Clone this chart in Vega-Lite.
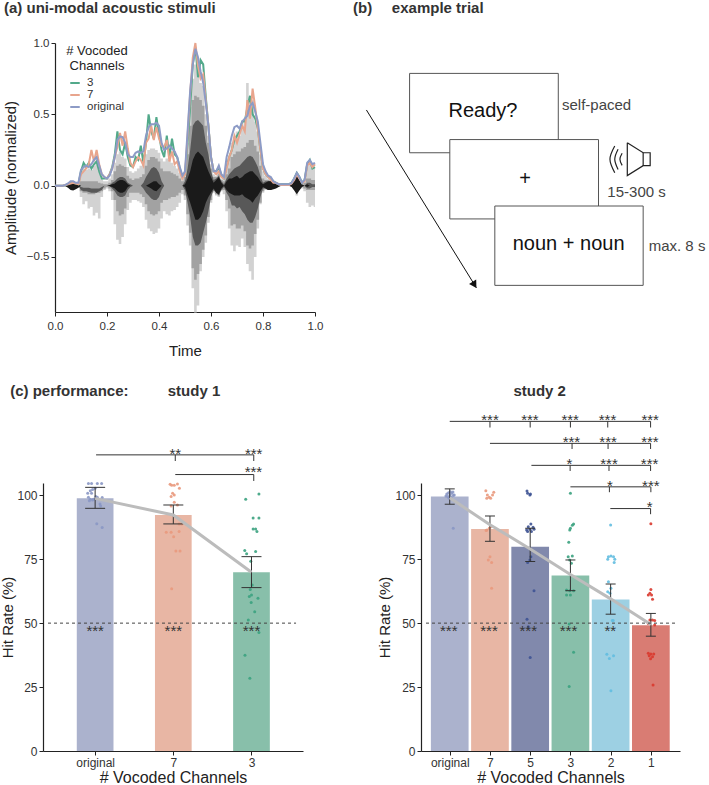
{"$schema":"https://vega.github.io/schema/vega-lite/v6.json","background":"white","padding":{"left":0,"top":1,"right":0,"bottom":3},"columns":2,"bounds":"flush","spacing":{"row":171,"column":23},"config":{"font":"Liberation Sans","view":{"stroke":null},"axis":{"grid":false,"domainColor":"#222","tickColor":"#222","labelColor":"#333","titleColor":"#222","titleFontWeight":"normal","labelFontSize":12,"titleFontSize":15,"domainWidth":1.2,"tickSize":4,"labelPadding":2,"labelFlush":false},"title":{"fontSize":15,"fontWeight":"bold","color":"#333"}},"datasets":{"wave":[
{"t":0,"3":0,"7":0,"original":0,"lu":0,"ll":0,"mu":0,"ml":0,"du":0,"dl":0,"ku":0,"kl":0},
{"t":0.03,"3":0,"7":0,"original":0,"lu":0,"ll":0,"mu":0,"ml":0,"du":0,"dl":0,"ku":0,"kl":0},
{"t":0.04,"3":0.002,"7":0.005,"original":0.005,"lu":0,"ll":0,"mu":0,"ml":0,"du":0,"dl":0,"ku":0.005,"kl":-0.005},
{"t":0.05,"3":0.01,"7":0.01,"original":0.015,"lu":0,"ll":0,"mu":0,"ml":0,"du":0,"dl":0,"ku":0.015,"kl":-0.015},
{"t":0.06,"3":0.02,"7":0.015,"original":0.03,"lu":0,"ll":0,"mu":0,"ml":0,"du":0,"dl":0,"ku":0.02,"kl":-0.03},
{"t":0.07,"3":0.02,"7":0.02,"original":0.03,"lu":0,"ll":0,"mu":0,"ml":0,"du":0,"dl":0,"ku":0.025,"kl":-0.035},
{"t":0.08,"3":0.015,"7":0.015,"original":0.02,"lu":0,"ll":0,"mu":0,"ml":0,"du":0,"dl":0,"ku":0.02,"kl":-0.025},
{"t":0.09,"3":0.01,"7":0.01,"original":0.02,"lu":0,"ll":0,"mu":0,"ml":0,"du":0,"dl":0,"ku":0.01,"kl":-0.015},
{"t":0.1,"3":0.1,"7":0.08,"original":0.11,"lu":0.09,"ll":-0.08,"mu":0.03,"ml":-0.04,"du":-0.01,"dl":-0.03,"ku":0,"kl":0},
{"t":0.11,"3":0.16,"7":0.1,"original":0.13,"lu":0.12,"ll":-0.13,"mu":0.03,"ml":-0.05,"du":-0.015,"dl":-0.04,"ku":0,"kl":0},
{"t":0.12,"3":0.13,"7":0.12,"original":0.14,"lu":0.11,"ll":-0.11,"mu":0.03,"ml":-0.05,"du":-0.015,"dl":-0.04,"ku":0,"kl":0},
{"t":0.13,"3":0.16,"7":0.15,"original":0.13,"lu":0.12,"ll":-0.16,"mu":0.03,"ml":-0.06,"du":-0.015,"dl":-0.045,"ku":0,"kl":0},
{"t":0.14,"3":0.12,"7":0.25,"original":0.15,"lu":0.11,"ll":-0.15,"mu":0.03,"ml":-0.06,"du":-0.02,"dl":-0.05,"ku":0,"kl":0},
{"t":0.15,"3":0.15,"7":0.17,"original":0.18,"lu":0.14,"ll":-0.21,"mu":0.03,"ml":-0.06,"du":-0.02,"dl":-0.05,"ku":0,"kl":0},
{"t":0.16,"3":0.17,"7":0.25,"original":0.2,"lu":0.15,"ll":-0.19,"mu":0.03,"ml":-0.05,"du":-0.02,"dl":-0.05,"ku":0,"kl":0},
{"t":0.17,"3":0.1,"7":0.15,"original":0.14,"lu":0.1,"ll":-0.23,"mu":0.02,"ml":-0.05,"du":-0.02,"dl":-0.04,"ku":0,"kl":0},
{"t":0.18,"3":0.05,"7":0.08,"original":0.08,"lu":0.05,"ll":-0.08,"mu":0.015,"ml":-0.04,"du":-0.01,"dl":-0.03,"ku":0,"kl":0},
{"t":0.19,"3":0.05,"7":0.06,"original":0.06,"lu":0.03,"ll":-0.03,"mu":0.01,"ml":-0.02,"du":0,"dl":0,"ku":0,"kl":0},
{"t":0.2,"3":0.05,"7":0.05,"original":0.05,"lu":0.03,"ll":-0.02,"mu":0.01,"ml":-0.01,"du":0,"dl":0,"ku":0,"kl":0},
{"t":0.21,"3":0.08,"7":0.08,"original":0.07,"lu":0.05,"ll":-0.04,"mu":0.02,"ml":-0.02,"du":0,"dl":0,"ku":0.005,"kl":-0.005},
{"t":0.22,"3":0.13,"7":0.12,"original":0.12,"lu":0.08,"ll":-0.1,"mu":0.04,"ml":-0.04,"du":0.02,"dl":-0.02,"ku":0.01,"kl":-0.01},
{"t":0.23,"3":0.22,"7":0.2,"original":0.2,"lu":0.16,"ll":-0.27,"mu":0.1,"ml":-0.1,"du":0.03,"dl":-0.04,"ku":0.015,"kl":-0.02},
{"t":0.24,"3":0.38,"7":0.27,"original":0.32,"lu":0.22,"ll":-0.38,"mu":0.14,"ml":-0.18,"du":0.05,"dl":-0.07,"ku":0.03,"kl":-0.04},
{"t":0.25,"3":0.25,"7":0.37,"original":0.345,"lu":0.24,"ll":-0.41,"mu":0.15,"ml":-0.21,"du":0.06,"dl":-0.08,"ku":0.04,"kl":-0.05},
{"t":0.26,"3":0.22,"7":0.28,"original":0.34,"lu":0.2,"ll":-0.36,"mu":0.14,"ml":-0.2,"du":0.06,"dl":-0.08,"ku":0.04,"kl":-0.05},
{"t":0.27,"3":0.3,"7":0.38,"original":0.3,"lu":0.19,"ll":-0.27,"mu":0.13,"ml":-0.16,"du":0.05,"dl":-0.07,"ku":0.03,"kl":-0.04},
{"t":0.28,"3":0.2,"7":0.26,"original":0.22,"lu":0.13,"ll":-0.17,"mu":0.07,"ml":-0.08,"du":0.02,"dl":-0.03,"ku":0.01,"kl":-0.01},
{"t":0.29,"3":0.14,"7":0.16,"original":0.2,"lu":0.1,"ll":-0.12,"mu":0.05,"ml":-0.05,"du":0.01,"dl":-0.01,"ku":0,"kl":0},
{"t":0.3,"3":0.13,"7":0.13,"original":0.2,"lu":0.09,"ll":-0.1,"mu":0.04,"ml":-0.05,"du":0,"dl":0,"ku":0,"kl":0},
{"t":0.31,"3":0.2,"7":0.17,"original":0.23,"lu":0.1,"ll":-0.1,"mu":0.05,"ml":-0.05,"du":0,"dl":0,"ku":0,"kl":0},
{"t":0.32,"3":0.18,"7":0.2,"original":0.24,"lu":0.12,"ll":-0.11,"mu":0.05,"ml":-0.05,"du":0,"dl":0,"ku":0,"kl":0},
{"t":0.33,"3":0.28,"7":0.18,"original":0.23,"lu":0.14,"ll":-0.12,"mu":0.06,"ml":-0.06,"du":0,"dl":0,"ku":0,"kl":0},
{"t":0.34,"3":0.16,"7":0.14,"original":0.24,"lu":0.16,"ll":-0.15,"mu":0.08,"ml":-0.08,"du":0.02,"dl":-0.02,"ku":0,"kl":0},
{"t":0.35,"3":0.3,"7":0.3,"original":0.35,"lu":0.22,"ll":-0.24,"mu":0.14,"ml":-0.13,"du":0.06,"dl":-0.05,"ku":0,"kl":0},
{"t":0.36,"3":0.5,"7":0.33,"original":0.41,"lu":0.25,"ll":-0.3,"mu":0.18,"ml":-0.18,"du":0.09,"dl":-0.07,"ku":0.01,"kl":-0.01},
{"t":0.37,"3":0.38,"7":0.42,"original":0.43,"lu":0.26,"ll":-0.32,"mu":0.2,"ml":-0.2,"du":0.12,"dl":-0.09,"ku":0.02,"kl":-0.02},
{"t":0.38,"3":0.33,"7":0.32,"original":0.43,"lu":0.26,"ll":-0.34,"mu":0.2,"ml":-0.21,"du":0.13,"dl":-0.1,"ku":0.03,"kl":-0.035},
{"t":0.39,"3":0.48,"7":0.41,"original":0.44,"lu":0.25,"ll":-0.33,"mu":0.19,"ml":-0.2,"du":0.12,"dl":-0.1,"ku":0.03,"kl":-0.04},
{"t":0.4,"3":0.36,"7":0.33,"original":0.42,"lu":0.23,"ll":-0.3,"mu":0.17,"ml":-0.18,"du":0.09,"dl":-0.08,"ku":0.01,"kl":-0.02},
{"t":0.41,"3":0.25,"7":0.28,"original":0.3,"lu":0.19,"ll":-0.23,"mu":0.12,"ml":-0.12,"du":0.03,"dl":-0.03,"ku":0,"kl":0},
{"t":0.42,"3":0.2,"7":0.27,"original":0.25,"lu":0.17,"ll":-0.18,"mu":0.1,"ml":-0.1,"du":0,"dl":0,"ku":0,"kl":0},
{"t":0.43,"3":0.35,"7":0.32,"original":0.26,"lu":0.19,"ll":-0.2,"mu":0.1,"ml":-0.1,"du":0,"dl":0,"ku":0,"kl":0},
{"t":0.44,"3":0.2,"7":0.17,"original":0.28,"lu":0.18,"ll":-0.21,"mu":0.1,"ml":-0.09,"du":0,"dl":0,"ku":0,"kl":0},
{"t":0.45,"3":0.33,"7":0.24,"original":0.26,"lu":0.16,"ll":-0.18,"mu":0.09,"ml":-0.08,"du":0,"dl":0,"ku":0,"kl":0},
{"t":0.46,"3":0.22,"7":0.15,"original":0.24,"lu":0.14,"ll":-0.17,"mu":0.08,"ml":-0.08,"du":0,"dl":0,"ku":0,"kl":0},
{"t":0.47,"3":0.2,"7":0.17,"original":0.2,"lu":0.12,"ll":-0.15,"mu":0.07,"ml":-0.07,"du":0,"dl":0,"ku":0,"kl":0},
{"t":0.48,"3":0.12,"7":0.1,"original":0.13,"lu":0.09,"ll":-0.12,"mu":0.05,"ml":-0.05,"du":0,"dl":0,"ku":0,"kl":0},
{"t":0.49,"3":0.06,"7":0.05,"original":0.07,"lu":0.05,"ll":-0.06,"mu":0.03,"ml":-0.03,"du":0,"dl":0,"ku":0,"kl":0},
{"t":0.5,"3":0.08,"7":0.08,"original":0.1,"lu":0.08,"ll":-0.1,"mu":0.06,"ml":-0.07,"du":0.03,"dl":-0.03,"ku":0.01,"kl":-0.01},
{"t":0.51,"3":0.3,"7":0.35,"original":0.38,"lu":0.3,"ll":-0.28,"mu":0.22,"ml":-0.2,"du":0.12,"dl":-0.12,"ku":0.05,"kl":-0.07},
{"t":0.52,"3":0.55,"7":0.65,"original":0.67,"lu":0.55,"ll":-0.42,"mu":0.42,"ml":-0.33,"du":0.25,"dl":-0.22,"ku":0.1,"kl":-0.12},
{"t":0.53,"3":0.85,"7":0.9,"original":0.85,"lu":0.75,"ll":-0.72,"mu":0.6,"ml":-0.58,"du":0.42,"dl":-0.36,"ku":0.18,"kl":-0.18},
{"t":0.54,"3":0.97,"7":1,"original":0.96,"lu":0.85,"ll":-0.89,"mu":0.63,"ml":-0.66,"du":0.45,"dl":-0.42,"ku":0.22,"kl":-0.24},
{"t":0.55,"3":0.76,"7":0.84,"original":0.9,"lu":0.8,"ll":-0.84,"mu":0.62,"ml":-0.62,"du":0.46,"dl":-0.42,"ku":0.24,"kl":-0.24},
{"t":0.56,"3":0.88,"7":0.75,"original":0.8,"lu":0.72,"ll":-0.6,"mu":0.6,"ml":-0.55,"du":0.44,"dl":-0.4,"ku":0.22,"kl":-0.22},
{"t":0.57,"3":0.85,"7":0.78,"original":0.72,"lu":0.7,"ll":-0.5,"mu":0.56,"ml":-0.45,"du":0.42,"dl":-0.33,"ku":0.2,"kl":-0.18},
{"t":0.58,"3":0.62,"7":0.6,"original":0.58,"lu":0.5,"ll":-0.4,"mu":0.42,"ml":-0.35,"du":0.3,"dl":-0.26,"ku":0.15,"kl":-0.12},
{"t":0.59,"3":0.42,"7":0.42,"original":0.42,"lu":0.35,"ll":-0.26,"mu":0.3,"ml":-0.22,"du":0.22,"dl":-0.18,"ku":0.1,"kl":-0.08},
{"t":0.6,"3":0.2,"7":0.2,"original":0.2,"lu":0.15,"ll":-0.12,"mu":0.12,"ml":-0.1,"du":0.1,"dl":-0.08,"ku":0.06,"kl":-0.05},
{"t":0.61,"3":0.1,"7":0.1,"original":0.1,"lu":0.08,"ll":-0.05,"mu":0.06,"ml":-0.04,"du":0.04,"dl":-0.03,"ku":0.02,"kl":-0.02},
{"t":0.62,"3":0.1,"7":0.08,"original":0.1,"lu":0.07,"ll":-0.07,"mu":0.06,"ml":-0.06,"du":0.05,"dl":-0.05,"ku":0.04,"kl":-0.05},
{"t":0.63,"3":0.13,"7":0.1,"original":0.14,"lu":0.1,"ll":-0.08,"mu":0.08,"ml":-0.07,"du":0.07,"dl":-0.07,"ku":0.06,"kl":-0.06},
{"t":0.64,"3":0.07,"7":0.06,"original":0.08,"lu":0.05,"ll":-0.04,"mu":0.04,"ml":-0.03,"du":0.03,"dl":-0.03,"ku":0.02,"kl":-0.02},
{"t":0.65,"3":0.05,"7":0.05,"original":0.06,"lu":0.05,"ll":-0.06,"mu":0.03,"ml":-0.03,"du":0.01,"dl":-0.01,"ku":0,"kl":0},
{"t":0.66,"3":0.13,"7":0.12,"original":0.2,"lu":0.12,"ll":-0.18,"mu":0.08,"ml":-0.1,"du":0.05,"dl":-0.05,"ku":0.03,"kl":-0.03},
{"t":0.67,"3":0.2,"7":0.2,"original":0.27,"lu":0.2,"ll":-0.3,"mu":0.12,"ml":-0.16,"du":0.08,"dl":-0.08,"ku":0.05,"kl":-0.05},
{"t":0.68,"3":0.25,"7":0.25,"original":0.35,"lu":0.3,"ll":-0.42,"mu":0.2,"ml":-0.28,"du":0.1,"dl":-0.14,"ku":0.05,"kl":-0.06},
{"t":0.69,"3":0.32,"7":0.35,"original":0.41,"lu":0.33,"ll":-0.46,"mu":0.22,"ml":-0.27,"du":0.12,"dl":-0.14,"ku":0.06,"kl":-0.07},
{"t":0.7,"3":0.35,"7":0.3,"original":0.42,"lu":0.38,"ll":-0.42,"mu":0.24,"ml":-0.3,"du":0.13,"dl":-0.16,"ku":0.07,"kl":-0.07},
{"t":0.71,"3":0.38,"7":0.36,"original":0.4,"lu":0.35,"ll":-0.43,"mu":0.24,"ml":-0.3,"du":0.14,"dl":-0.15,"ku":0.05,"kl":-0.07},
{"t":0.72,"3":0.45,"7":0.42,"original":0.45,"lu":0.42,"ll":-0.37,"mu":0.26,"ml":-0.28,"du":0.16,"dl":-0.18,"ku":0.06,"kl":-0.06},
{"t":0.73,"3":0.45,"7":0.38,"original":0.47,"lu":0.46,"ll":-0.43,"mu":0.27,"ml":-0.32,"du":0.18,"dl":-0.2,"ku":0.08,"kl":-0.08},
{"t":0.74,"3":0.55,"7":0.6,"original":0.49,"lu":0.72,"ll":-0.55,"mu":0.3,"ml":-0.42,"du":0.2,"dl":-0.24,"ku":0.09,"kl":-0.09},
{"t":0.75,"3":0.63,"7":0.47,"original":0.56,"lu":0.62,"ll":-0.6,"mu":0.32,"ml":-0.44,"du":0.21,"dl":-0.26,"ku":0.1,"kl":-0.1},
{"t":0.76,"3":0.5,"7":0.68,"original":0.58,"lu":0.6,"ll":-0.66,"mu":0.32,"ml":-0.42,"du":0.2,"dl":-0.26,"ku":0.1,"kl":-0.12},
{"t":0.77,"3":0.47,"7":0.55,"original":0.52,"lu":0.45,"ll":-0.5,"mu":0.28,"ml":-0.34,"du":0.17,"dl":-0.22,"ku":0.08,"kl":-0.09},
{"t":0.78,"3":0.4,"7":0.4,"original":0.45,"lu":0.38,"ll":-0.3,"mu":0.24,"ml":-0.24,"du":0.13,"dl":-0.16,"ku":0.06,"kl":-0.07},
{"t":0.79,"3":0.25,"7":0.25,"original":0.3,"lu":0.22,"ll":-0.13,"mu":0.14,"ml":-0.12,"du":0.07,"dl":-0.08,"ku":0.03,"kl":-0.04},
{"t":0.8,"3":0.12,"7":0.12,"original":0.15,"lu":0.1,"ll":-0.05,"mu":0.05,"ml":-0.04,"du":0.02,"dl":-0.02,"ku":0.01,"kl":-0.01},
{"t":0.81,"3":0.08,"7":0.08,"original":0.1,"lu":0.07,"ll":-0.03,"mu":0.04,"ml":-0.02,"du":0.03,"dl":-0.02,"ku":0.02,"kl":-0.02},
{"t":0.82,"3":0.06,"7":0.06,"original":0.07,"lu":0.05,"ll":-0.03,"mu":0.04,"ml":-0.03,"du":0.03,"dl":-0.03,"ku":0.03,"kl":-0.03},
{"t":0.83,"3":0.05,"7":0.04,"original":0.06,"lu":0.04,"ll":-0.03,"mu":0.03,"ml":-0.03,"du":0.03,"dl":-0.03,"ku":0.03,"kl":-0.03},
{"t":0.84,"3":0.03,"7":0.02,"original":0.03,"lu":0.03,"ll":-0.025,"mu":0,"ml":0,"du":0,"dl":0,"ku":0.025,"kl":-0.025},
{"t":0.85,"3":0.02,"7":0.02,"original":0.02,"lu":0,"ll":0,"mu":0,"ml":0,"du":0,"dl":0,"ku":0.015,"kl":-0.02},
{"t":0.86,"3":0.01,"7":0.01,"original":0.01,"lu":0,"ll":0,"mu":0,"ml":0,"du":0,"dl":0,"ku":0.005,"kl":-0.01},
{"t":0.87,"3":0.01,"7":0.005,"original":0.01,"lu":0,"ll":0,"mu":0,"ml":0,"du":0,"dl":0,"ku":0,"kl":0},
{"t":0.9,"3":0.01,"7":0.005,"original":0.01,"lu":0,"ll":0,"mu":0,"ml":0,"du":0,"dl":0,"ku":0,"kl":0},
{"t":0.91,"3":0.02,"7":0.015,"original":0.02,"lu":0,"ll":0,"mu":0,"ml":0,"du":0,"dl":0,"ku":0.01,"kl":-0.01},
{"t":0.92,"3":0.05,"7":0.04,"original":0.05,"lu":0,"ll":0,"mu":0,"ml":0,"du":0,"dl":0,"ku":0.035,"kl":-0.035},
{"t":0.93,"3":0.09,"7":0.08,"original":0.09,"lu":0,"ll":-0.07,"mu":0,"ml":0,"du":0,"dl":0,"ku":0.07,"kl":-0.06},
{"t":0.94,"3":0.06,"7":0.05,"original":0.06,"lu":0,"ll":0,"mu":0,"ml":0,"du":0,"dl":0,"ku":0.04,"kl":-0.035},
{"t":0.95,"3":0.02,"7":0.02,"original":0.02,"lu":0.02,"ll":-0.02,"mu":0,"ml":0,"du":0,"dl":0,"ku":0.01,"kl":-0.01},
{"t":0.96,"3":0.04,"7":0.03,"original":0.04,"lu":0.03,"ll":-0.04,"mu":0.02,"ml":-0.02,"du":0,"dl":0,"ku":0,"kl":0},
{"t":0.97,"3":0.15,"7":0.14,"original":0.16,"lu":0.14,"ll":-0.12,"mu":0.05,"ml":-0.03,"du":0.02,"dl":-0.02,"ku":0.01,"kl":-0.01},
{"t":0.98,"3":0.18,"7":0.16,"original":0.18,"lu":0.15,"ll":-0.15,"mu":0.05,"ml":-0.03,"du":0.02,"dl":-0.02,"ku":0,"kl":0},
{"t":0.99,"3":0.12,"7":0.13,"original":0.15,"lu":0.13,"ll":-0.14,"mu":0.04,"ml":-0.03,"du":0.01,"dl":-0.01,"ku":0,"kl":0},
{"t":1,"3":0.13,"7":0.15,"original":0.16,"lu":0.13,"ll":-0.15,"mu":0.04,"ml":-0.03,"du":0.01,"dl":-0.01,"ku":0,"kl":0}
]},
"concat":[
{"width":272,"height":269,"data":{"name":"wave"},"title":{"text":"(a) uni-modal acoustic stimuli","anchor":"start","frame":"group","dx":-39,"offset":21},
"encoding":{"x":{"field":"t","type":"quantitative","title":"Time","scale":{"domain":[0,1],"range":[12,272]},"axis":{"values":[0,0.2,0.4,0.6,0.8,1],"format":".1f","labelFontSize":11.5,"labelPadding":4,"titlePadding":12}}},
"layer":[
{"mark":{"type":"area","interpolate":"step","color":"#d2d2d2"},"encoding":{"y":{"field":"ll","type":"quantitative","title":"Amplitude (normalized)","scale":{"domain":[-0.886,1]},"axis":{"values":[-0.5,0,0.5,1],"format":".1f","offset":-12,"labelFontSize":11.5,"titlePadding":8}},"y2":{"field":"lu"}}},
{"mark":{"type":"area","interpolate":"step","color":"#a2a2a2"},"encoding":{"y":{"field":"ml","type":"quantitative","title":"Amplitude (normalized)","scale":{"domain":[-0.886,1]}},"y2":{"field":"mu"}}},
{"mark":{"type":"area","interpolate":"linear","color":"#585858"},"encoding":{"y":{"field":"dl","type":"quantitative","title":"Amplitude (normalized)","scale":{"domain":[-0.886,1]}},"y2":{"field":"du"}}},
{"mark":{"type":"area","interpolate":"linear","color":"#1a1a1a"},"encoding":{"y":{"field":"kl","type":"quantitative","title":"Amplitude (normalized)","scale":{"domain":[-0.886,1]}},"y2":{"field":"ku"}}},
{"transform":[{"fold":["3","7","original"],"as":["series","amp"]}],"mark":{"type":"line","strokeWidth":2},"encoding":{"y":{"field":"amp","type":"quantitative","title":"Amplitude (normalized)","scale":{"domain":[-0.886,1]}},"color":{"field":"series","type":"nominal","sort":["3","7","original"],"scale":{"domain":["3","7","original"],"range":["#52a98a","#e8a58d","#8d9bc6"]},"legend":{"orient":"none","legendX":23,"legendY":2,"title":["# Vocoded","Channels"],"titleAlign":"center","titleAnchor":"middle","titleFontWeight":"normal","titleFontSize":13,"titleColor":"#222","labelFontSize":11.5,"labelColor":"#333","symbolType":"stroke","symbolSize":90,"symbolStrokeWidth":2,"rowPadding":-1,"titlePadding":4,"labelOffset":6}}}}
]},
{"width":369,"height":269,
"layer":[
{"data":{"values":[{"x":7.7,"x2":37.5,"y":24.9,"y2":91}]},"mark":{"type":"rule","color":"#111","strokeWidth":1},"encoding":{"x":{"field":"x","type":"quantitative","axis":null,"scale":{"domain":[0,100]}},"x2":{"field":"x2"},"y":{"field":"y","type":"quantitative","axis":null,"scale":{"domain":[100,0]}},"y2":{"field":"y2"}}},
{"data":{"values":[{"x":37,"y":89.9}]},"mark":{"type":"point","shape":"triangle-up","filled":true,"color":"#111","opacity":1,"size":70,"angle":148.4},"encoding":{"x":{"field":"x","type":"quantitative","axis":null,"scale":{"domain":[0,100]}},"y":{"field":"y","type":"quantitative","axis":null,"scale":{"domain":[100,0]}}}},
{"data":{"values":[{"x":19.4,"x2":59.7,"y":11.3,"y2":40.8},{"x":30.3,"x2":70.6,"y":35.9,"y2":65.4},{"x":42.5,"x2":82.7,"y":60.6,"y2":90.1}]},"mark":{"type":"rect","fill":"white","stroke":"#555","strokeWidth":1},"encoding":{"x":{"field":"x","type":"quantitative","axis":null,"scale":{"domain":[0,100]}},"x2":{"field":"x2"},"y":{"field":"y","type":"quantitative","axis":null,"scale":{"domain":[100,0]}},"y2":{"field":"y2"}}},
{"data":{"values":[{"s":"c","i":0,"x":78.4,"y":37.1},{"s":"c","i":1,"x":82.7,"y":40.8},{"s":"c","i":2,"x":84.6,"y":40.8},{"s":"c","i":3,"x":84.6,"y":45.6},{"s":"c","i":4,"x":82.7,"y":45.6},{"s":"c","i":5,"x":78.4,"y":49.3},{"s":"c","i":6,"x":78.4,"y":37.1},{"s":"d","i":0,"x":82.7,"y":40.8},{"s":"d","i":1,"x":82.7,"y":45.6}]},"mark":{"type":"line","color":"#222","strokeWidth":1.2},"encoding":{"x":{"field":"x","type":"quantitative","axis":null,"scale":{"domain":[0,100]}},"y":{"field":"y","type":"quantitative","axis":null,"scale":{"domain":[100,0]}},"detail":{"field":"s"},"order":{"field":"i"}}},
{"data":{"values":[{"s":"o","i":0,"x":75,"y":38.3},{"s":"o","i":1,"x":73.7,"y":43.2},{"s":"o","i":2,"x":75,"y":48.2},{"s":"m","i":0,"x":75.9,"y":39.5},{"s":"m","i":1,"x":75,"y":43.2},{"s":"m","i":2,"x":75.9,"y":47},{"s":"n","i":0,"x":77,"y":41},{"s":"n","i":1,"x":76.4,"y":43.2},{"s":"n","i":2,"x":77,"y":45.5}]},"mark":{"type":"line","color":"#222","strokeWidth":1.2,"interpolate":"cardinal"},"encoding":{"x":{"field":"x","type":"quantitative","axis":null,"scale":{"domain":[0,100]}},"y":{"field":"y","type":"quantitative","axis":null,"scale":{"domain":[100,0]}},"detail":{"field":"s"},"order":{"field":"i"}}},
{"data":{"values":[{"x":39.3,"y":25.3,"t":"Ready?"},{"x":50.7,"y":50.6,"t":"+"},{"x":62.5,"y":74.7,"t":"noun + noun"}]},"mark":{"type":"text","fontSize":20,"color":"#111","baseline":"middle"},"encoding":{"x":{"field":"x","type":"quantitative","axis":null,"scale":{"domain":[0,100]}},"y":{"field":"y","type":"quantitative","axis":null,"scale":{"domain":[100,0]}},"text":{"field":"t"}}},
{"data":{"values":[{"x":60.7,"y":23,"t":"self-paced"},{"x":73,"y":55.5,"t":"15-300 s"},{"x":84.2,"y":75.4,"t":"max. 8 s"}]},"mark":{"type":"text","fontSize":15,"color":"#444","baseline":"middle","align":"left"},"encoding":{"x":{"field":"x","type":"quantitative","axis":null,"scale":{"domain":[0,100]}},"y":{"field":"y","type":"quantitative","axis":null,"scale":{"domain":[100,0]}},"text":{"field":"t"}}},
{"data":{"values":[{"x":4.07,"y":-12.9,"t":"(b)"},{"x":14.6,"y":-12.9,"t":"example trial"}]},"mark":{"type":"text","fontSize":15,"fontWeight":"bold","color":"#333","baseline":"middle","align":"left"},"encoding":{"x":{"field":"x","type":"quantitative","axis":null,"scale":{"domain":[0,100]}},"y":{"field":"y","type":"quantitative","axis":null,"scale":{"domain":[100,0]}},"text":{"field":"t"}}}
]},
{"width":260,"height":268,
"encoding":{"x":{"field":"x","type":"quantitative","title":"# Vocoded Channels","scale":{"domain":[-0.603,2.595]},"axis":{"values":[0,1,2],"labelExpr":"['original','7','3'][datum.value]","titleFontSize":16,"titlePadding":1}},"y":{"field":"v","type":"quantitative","title":"Hit Rate (%)","scale":{"domain":[0,104.8]},"axis":{"values":[0,25,50,75,100],"titlePadding":1}}},
"resolve":{"scale":{"color":"independent"}},
"layer":[
{"data":{"values":[{"g":"original","x":0,"v":98.8},{"g":"7","x":1,"v":92.3},{"g":"3","x":2,"v":69.9}]},"mark":{"type":"bar","orient":"vertical","size":36.7},"encoding":{"color":{"field":"g","type":"nominal","legend":null,"scale":{"domain":["original","7","3"],"range":["#abb2cd","#e8b6a4","#88bfaa"]}}}},
{"data":{"values":[{"g":"original","x":-0.086,"v":104.6},{"g":"original","x":-0.046,"v":104.6},{"g":"original","x":0.028,"v":104.6},{"g":"original","x":0.083,"v":104.6},{"g":"original","x":-0.062,"v":101.8},{"g":"original","x":-0.033,"v":102.3},{"g":"original","x":0,"v":102.7},{"g":"original","x":-0.095,"v":100.8},{"g":"original","x":-0.046,"v":100.8},{"g":"original","x":0.009,"v":99.5},{"g":"original","x":-0.086,"v":99.2},{"g":"original","x":-0.062,"v":98.4},{"g":"original","x":-0.033,"v":98.2},{"g":"original","x":0.028,"v":99.2},{"g":"original","x":0.09,"v":99.1},{"g":"original","x":0.062,"v":96.6},{"g":"original","x":0.07,"v":95.8},{"g":"original","x":0.021,"v":88.9},{"g":"original","x":0.09,"v":87.4},{"g":"original","x":-0.021,"v":98.4},{"g":"original","x":-0.074,"v":97.9},
{"g":"7","x":0.959,"v":104.3},{"g":"7","x":0.979,"v":103.9},{"g":"7","x":1.012,"v":103.9},{"g":"7","x":1.053,"v":104.4},{"g":"7","x":1.078,"v":102.7},{"g":"7","x":0.991,"v":100.8},{"g":"7","x":1.012,"v":100.1},{"g":"7","x":0.972,"v":99.5},{"g":"7","x":1.012,"v":97.3},{"g":"7","x":1.053,"v":96.2},{"g":"7","x":0.972,"v":95.8},{"g":"7","x":1.074,"v":88.8},{"g":"7","x":1.107,"v":88.8},{"g":"7","x":0.91,"v":85.5},{"g":"7","x":0.972,"v":85.5},{"g":"7","x":1.074,"v":85.8},{"g":"7","x":1.004,"v":83.8},{"g":"7","x":1.033,"v":78.2},{"g":"7","x":1.086,"v":78.2},{"g":"7","x":0.979,"v":63.4},
{"g":"3","x":1.926,"v":98.4},{"g":"3","x":2.095,"v":100.5},{"g":"3","x":2.021,"v":91.1},{"g":"3","x":2.095,"v":91.1},{"g":"3","x":2.021,"v":86.8},{"g":"3","x":2.053,"v":86.8},{"g":"3","x":2.07,"v":85.8},{"g":"3","x":1.914,"v":78.4},{"g":"3","x":1.938,"v":77.1},{"g":"3","x":2.053,"v":78},{"g":"3","x":1.991,"v":74.2},{"g":"3","x":2.009,"v":64.9},{"g":"3","x":1.984,"v":63.2},{"g":"3","x":2,"v":61},{"g":"3","x":1.972,"v":60.4},{"g":"3","x":2.083,"v":59.7},{"g":"3","x":1.996,"v":58.1},{"g":"3","x":2.041,"v":54.5},{"g":"3","x":1.959,"v":51.2},{"g":"3","x":2.095,"v":46.3},{"g":"3","x":1.917,"v":37.4},{"g":"3","x":1.979,"v":28.4}]},"mark":{"type":"circle","size":9,"opacity":0.9},"encoding":{"color":{"field":"g","type":"nominal","legend":null,"scale":{"domain":["original","7","3"],"range":["#8a97c4","#e9997d","#3ba27f"]}}}},
{"data":{"values":[{"x":0,"v":103.1,"v2":94.9},{"x":1,"v":96.2,"v2":88.8},{"x":2,"v":76,"v2":63.9}]},"mark":{"type":"rule","color":"#333","strokeWidth":1},"encoding":{"y2":{"field":"v2"}}},
{"data":{"values":[{"x":0,"v":103.1},{"x":0,"v":94.9},{"x":1,"v":96.2},{"x":1,"v":88.8},{"x":2,"v":76},{"x":2,"v":63.9}]},"mark":{"type":"tick","orient":"horizontal","size":20,"thickness":1,"color":"#333","opacity":1}},
{"data":{"values":[{"x":0,"v":98.8},{"x":1,"v":92.3},{"x":2,"v":69.9}]},"mark":{"type":"line","color":"#bcbcbc","strokeWidth":3}},
{"data":{"values":[{"x":-0.603,"x2":2.57,"v":50}]},"mark":{"type":"rule","color":"#444","strokeWidth":1,"strokeDash":[3,3]},"encoding":{"x2":{"field":"x2"}}},
{"data":{"values":[{"x":0.012,"x2":2.029,"v":115.8},{"x":1.025,"x2":2.029,"v":108.1}]},"mark":{"type":"rule","color":"#333","strokeWidth":1},"encoding":{"x2":{"field":"x2"}}},
{"data":{"values":[{"x":1.025,"v":115.8,"v2":113.4},{"x":2.029,"v":115.8,"v2":113.4},{"x":2.029,"v":108.1,"v2":105.6}]},"mark":{"type":"rule","color":"#333","strokeWidth":1},"encoding":{"y2":{"field":"v2"}}},
{"data":{"values":[{"x":0,"v":48,"t":"***"},{"x":1,"v":48,"t":"***"},{"x":2,"v":48,"t":"***"},{"x":1.025,"v":117.3,"t":"**"},{"x":2.028,"v":117.3,"t":"***"},{"x":2.025,"v":110.2,"t":"***"}]},"mark":{"type":"text","fontSize":15,"color":"#333","baseline":"middle","dy":2.5},"encoding":{"text":{"field":"t"}}},
{"data":{"values":[{"x":-1.087,"v":140.8,"t":"(c) performance:"}]},"mark":{"type":"text","fontSize":15,"fontWeight":"bold","color":"#333","baseline":"middle","align":"left"},"encoding":{"text":{"field":"t"}}},
{"data":{"values":[{"x":1.265,"v":140.8,"t":"study 1"}]},"mark":{"type":"text","fontSize":15,"fontWeight":"bold","color":"#333","baseline":"middle"},"encoding":{"text":{"field":"t"}}}
]},
{"width":343,"height":268,
"encoding":{"x":{"field":"x","type":"quantitative","title":"# Vocoded Channels","scale":{"domain":[-0.59,5.6],"range":[83,342]},"axis":{"values":[0,1,2,3,4,5],"labelExpr":"['original','7','5','3','2','1'][datum.value]","titleFontSize":16,"titlePadding":1}},"y":{"field":"v","type":"quantitative","title":"Hit Rate (%)","scale":{"domain":[0,104.8]},"axis":{"values":[0,25,50,75,100],"titlePadding":2,"offset":-83}}},
"resolve":{"scale":{"color":"independent"}},
"layer":[
{"data":{"values":[{"g":"original","x":0,"v":99.5},{"g":"7","x":1,"v":86.8},{"g":"5","x":2,"v":79.9},{"g":"3","x":3,"v":68.6},{"g":"2","x":4,"v":59.2},{"g":"1","x":5,"v":49.2}]},"mark":{"type":"bar","orient":"vertical","size":37.7},"encoding":{"color":{"field":"g","type":"nominal","legend":null,"scale":{"domain":["original","7","5","3","2","1"],"range":["#abb2cd","#e8b6a4","#8189ac","#88bfaa","#9dd0e3","#d97c73"]}}}},
{"data":{"values":[{"g":"original","x":-0.072,"v":100.5},{"g":"original","x":-0.031,"v":101},{"g":"original","x":0.007,"v":100.1},{"g":"original","x":0.048,"v":100.8},{"g":"original","x":0.088,"v":99.9},{"g":"original","x":-0.048,"v":99.5},{"g":"original","x":0.031,"v":99.2},{"g":"original","x":-0.017,"v":98.8},{"g":"original","x":0.079,"v":101.3},{"g":"original","x":-0.095,"v":99.7},{"g":"original","x":0.017,"v":101.4},{"g":"original","x":0.112,"v":100.1},{"g":"original","x":0.088,"v":87.1},
{"g":"7","x":0.897,"v":101.8},{"g":"7","x":0.936,"v":100.1},{"g":"7","x":1.095,"v":101.2},{"g":"7","x":1.064,"v":100.1},{"g":"7","x":0.983,"v":99.2},{"g":"7","x":0.921,"v":98.8},{"g":"7","x":1.017,"v":98.8},{"g":"7","x":0.921,"v":86.4},{"g":"7","x":1.024,"v":87.7},{"g":"7","x":0.983,"v":87.1},{"g":"7","x":0.905,"v":86.2},{"g":"7","x":1,"v":76},{"g":"7","x":0.959,"v":74.7},{"g":"7","x":1.041,"v":73.7},{"g":"7","x":1.041,"v":63.6},
{"g":"5","x":1.921,"v":101.7},{"g":"5","x":1.936,"v":100.8},{"g":"5","x":2.007,"v":100.5},{"g":"5","x":1.993,"v":100.1},{"g":"5","x":2.017,"v":88.8},{"g":"5","x":1.952,"v":87.7},{"g":"5","x":2.072,"v":87.5},{"g":"5","x":1.912,"v":86.4},{"g":"5","x":1.993,"v":86.7},{"g":"5","x":2.095,"v":86.7},{"g":"5","x":1.936,"v":85.8},{"g":"5","x":2.031,"v":85.8},{"g":"5","x":2.017,"v":76},{"g":"5","x":1.993,"v":74.7},{"g":"5","x":1.936,"v":73.7},{"g":"5","x":2.095,"v":62.7},{"g":"5","x":1.921,"v":51.5},{"g":"5","x":1.952,"v":48.6},{"g":"5","x":2,"v":36.6},
{"g":"3","x":3,"v":100.8},{"g":"3","x":3.079,"v":88.8},{"g":"3","x":3.048,"v":88.3},{"g":"3","x":3,"v":87.1},{"g":"3","x":2.983,"v":86.4},{"g":"3","x":2.959,"v":81.6},{"g":"3","x":2.945,"v":76},{"g":"3","x":3.048,"v":76.3},{"g":"3","x":2.983,"v":74.7},{"g":"3","x":3.024,"v":73.4},{"g":"3","x":2.905,"v":63},{"g":"3","x":2.983,"v":62.7},{"g":"3","x":3.079,"v":62.7},{"g":"3","x":2.905,"v":61},{"g":"3","x":3,"v":61},{"g":"3","x":2.969,"v":49.7},{"g":"3","x":3.079,"v":38.6},{"g":"3","x":2.969,"v":25.2},
{"g":"2","x":4,"v":88.4},{"g":"2","x":3.945,"v":76},{"g":"2","x":4.007,"v":76.3},{"g":"2","x":4.072,"v":76},{"g":"2","x":4.103,"v":75},{"g":"2","x":3.928,"v":75},{"g":"2","x":4.088,"v":73.7},{"g":"2","x":3.945,"v":66.2},{"g":"2","x":4.007,"v":63.6},{"g":"2","x":3.928,"v":62.3},{"g":"2","x":3.983,"v":61.7},{"g":"2","x":4.041,"v":51},{"g":"2","x":4.064,"v":51},{"g":"2","x":3.905,"v":37.8},{"g":"2","x":3.969,"v":36.2},{"g":"2","x":4.072,"v":37.2},{"g":"2","x":4.007,"v":23.6},
{"g":"1","x":5,"v":88.9},{"g":"1","x":5,"v":63.2},{"g":"1","x":4.976,"v":61.7},{"g":"1","x":4.936,"v":61},{"g":"1","x":5.017,"v":61},{"g":"1","x":5.041,"v":59.3},{"g":"1","x":4.976,"v":51.2},{"g":"1","x":5.041,"v":51.2},{"g":"1","x":5.095,"v":51},{"g":"1","x":4.936,"v":49.9},{"g":"1","x":5.095,"v":49.3},{"g":"1","x":4.936,"v":38.2},{"g":"1","x":5,"v":37.9},{"g":"1","x":5.072,"v":37.9},{"g":"1","x":4.959,"v":37.2},{"g":"1","x":5.041,"v":36.9},{"g":"1","x":4.993,"v":36.1},{"g":"1","x":5.055,"v":25.8}]},"mark":{"type":"circle","size":9,"opacity":0.9},"encoding":{"color":{"field":"g","type":"nominal","legend":null,"scale":{"domain":["original","7","5","3","2","1"],"range":["#8a97c4","#e9997d","#3e5394","#3ba27f","#62bde0","#d9392e"]}}}},
{"data":{"values":[{"x":0,"v":102.5,"v2":96.5},{"x":1,"v":91.9,"v2":82},{"x":2,"v":87.1,"v2":74.1},{"x":3,"v":74.7,"v2":62.7},{"x":4,"v":65.3,"v2":53.5},{"x":5,"v":53.8,"v2":44.9}]},"mark":{"type":"rule","color":"#333","strokeWidth":1},"encoding":{"y2":{"field":"v2"}}},
{"data":{"values":[{"x":0,"v":102.5},{"x":0,"v":96.5},{"x":1,"v":91.9},{"x":1,"v":82},{"x":2,"v":87.1},{"x":2,"v":74.1},{"x":3,"v":74.7},{"x":3,"v":62.7},{"x":4,"v":65.3},{"x":4,"v":53.5},{"x":5,"v":53.8},{"x":5,"v":44.9}]},"mark":{"type":"tick","orient":"horizontal","size":10,"thickness":1,"color":"#333","opacity":1}},
{"data":{"values":[{"x":0,"v":99},{"x":1,"v":88.5},{"x":2,"v":79},{"x":3,"v":69},{"x":4,"v":59.5},{"x":5,"v":49.5}]},"mark":{"type":"line","color":"#bcbcbc","strokeWidth":3}},
{"data":{"values":[{"x":-0.59,"x2":5.6,"v":50}]},"mark":{"type":"rule","color":"#444","strokeWidth":1,"strokeDash":[3,3]},"encoding":{"x2":{"field":"x2"}}},
{"data":{"values":[{"x":0,"x2":4.993,"v":128.9},{"x":1,"x2":4.993,"v":120.3},{"x":2.03,"x2":4.993,"v":111.7},{"x":3,"x2":4.993,"v":103.3},{"x":3.992,"x2":4.993,"v":94.8}]},"mark":{"type":"rule","color":"#333","strokeWidth":1},"encoding":{"x2":{"field":"x2"}}},
{"data":{"values":[{"x":1,"v":128.9,"v2":126.5},{"x":2,"v":128.9,"v2":126.5},{"x":3,"v":128.9,"v2":126.5},{"x":3.928,"v":128.9,"v2":126.5},{"x":4.993,"v":128.9,"v2":126.5},{"x":3.041,"v":120.3,"v2":118.1},{"x":3.936,"v":120.3,"v2":118.1},{"x":4.993,"v":120.3,"v2":118.1},{"x":2.993,"v":111.7,"v2":109.5},{"x":3.959,"v":111.7,"v2":109.5},{"x":4.993,"v":111.7,"v2":109.5},{"x":3.969,"v":103.3,"v2":101.2},{"x":5,"v":103.3,"v2":101.2},{"x":4.993,"v":94.8,"v2":92.6}]},"mark":{"type":"rule","color":"#333","strokeWidth":1},"encoding":{"y2":{"field":"v2"}}},
{"data":{"values":[{"x":-0.024,"v":48,"t":"***"},{"x":0.976,"v":48,"t":"***"},{"x":1.952,"v":48,"t":"***"},{"x":2.952,"v":48,"t":"***"},{"x":3.993,"v":48,"t":"**"},{"x":1,"v":130.5,"t":"***"},{"x":1.993,"v":130.5,"t":"***"},{"x":2.993,"v":130.5,"t":"***"},{"x":3.921,"v":130.5,"t":"***"},{"x":4.983,"v":130.5,"t":"***"},{"x":3.024,"v":121.8,"t":"***"},{"x":3.936,"v":121.8,"t":"***"},{"x":4.976,"v":121.8,"t":"***"},{"x":2.976,"v":113.3,"t":"*"},{"x":3.959,"v":113.3,"t":"***"},{"x":4.969,"v":113.3,"t":"***"},{"x":3.983,"v":104.7,"t":"*"},{"x":5,"v":104.7,"t":"***"},{"x":4.969,"v":96.3,"t":"*"}]},"mark":{"type":"text","fontSize":15,"color":"#333","baseline":"middle","dy":2.5},"encoding":{"text":{"field":"t"}}},
{"data":{"values":[{"x":2.236,"v":140.8,"t":"study 2"}]},"mark":{"type":"text","fontSize":15,"fontWeight":"bold","color":"#333","baseline":"middle"},"encoding":{"text":{"field":"t"}}}
]}
]}
